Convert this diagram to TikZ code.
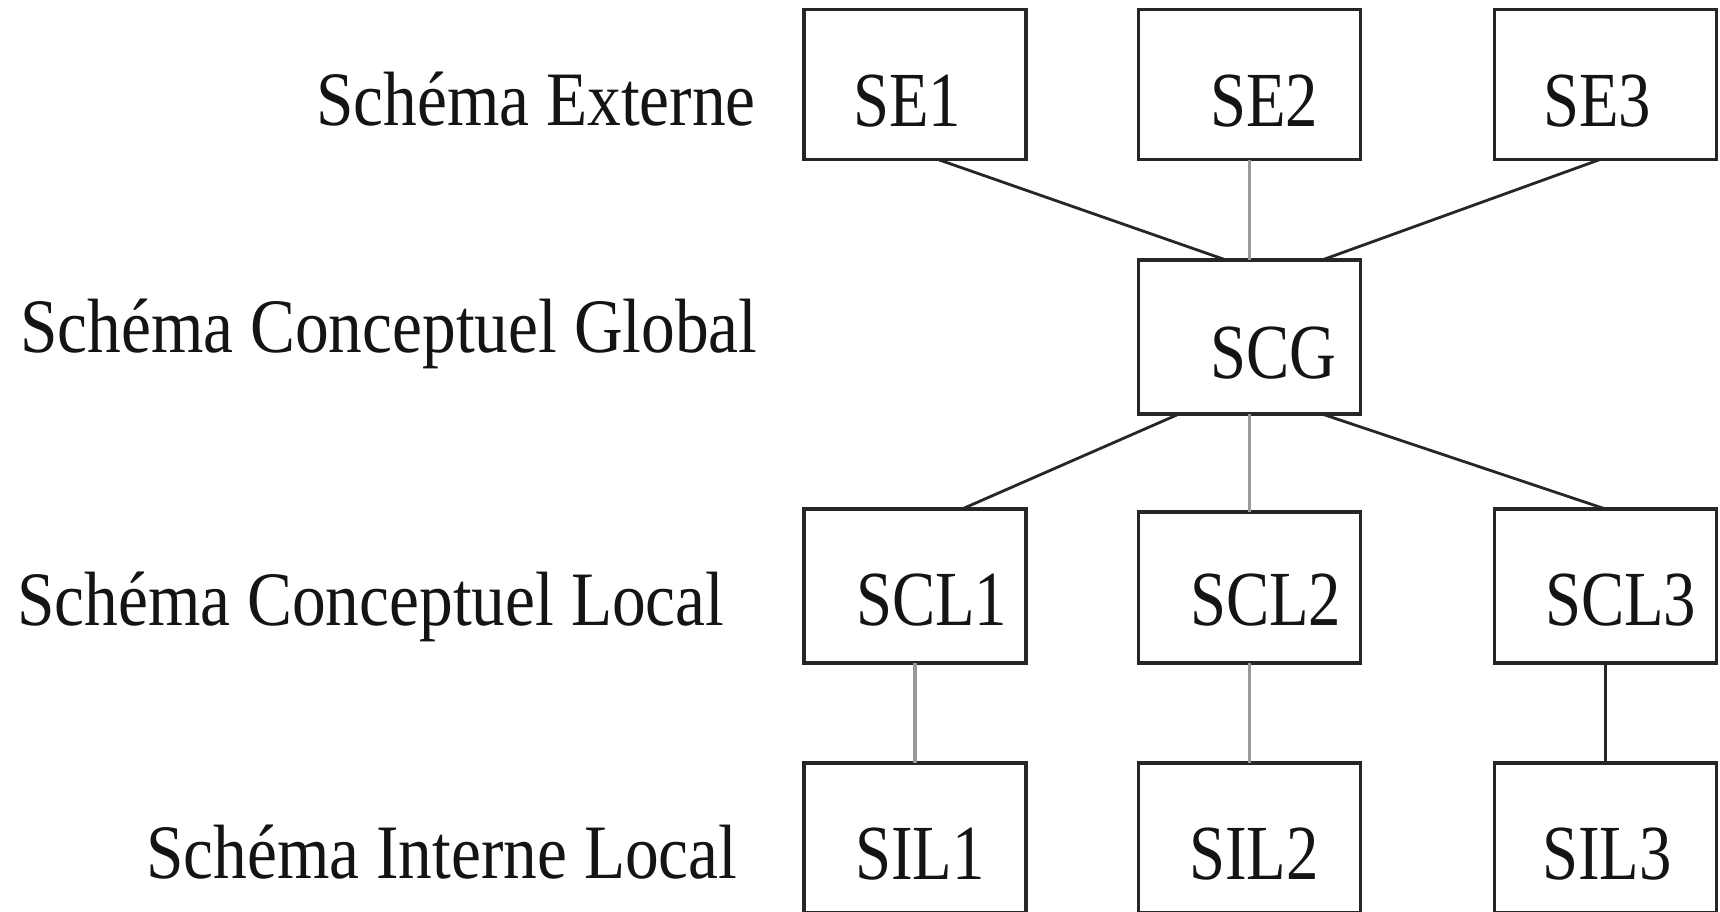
\documentclass[tikz,border=0pt]{standalone}
\usepackage{fontspec}
\setmainfont{Liberation Serif}
\newfontfamily\lblfont[FakeStretch=0.875]{Liberation Serif}
\newfontfamily\boxfont[FakeStretch=0.83]{Liberation Serif}
\definecolor{ink}{HTML}{262626}
\definecolor{textink}{HTML}{141414}
\definecolor{greyline}{HTML}{999999}
\begin{document}
\begin{tikzpicture}[x=1pt,y=-1pt,
  box/.style={draw=ink, line width=3.5pt, minimum width=222pt, minimum height=150pt, inner sep=0pt, outer sep=0pt},
  dline/.style={draw=ink, line width=2.8pt},
  gline/.style={draw=greyline, line width=3.2pt},
  thinline/.style={draw=ink, line width=2.2pt},
  lbl/.style={anchor=base west, inner sep=0pt, text=textink, font=\lblfont\fontsize{77}{90}\selectfont},
  btxt/.style={anchor=base west, inner sep=0pt, text=textink, font=\boxfont\fontsize{78}{90}\selectfont}]
\useasboundingbox[fill=white] (0,0) rectangle (1720,911);

% boxes
\node[box] (SE1) at (915,84.5) {};
\node[box] (SE2) at (1249.5,84.5) {};
\node[box] (SE3) at (1605.5,84.5) {};
\node[box, minimum height=154pt] (SCG) at (1249.5,337) {};
\node[box, minimum height=154pt] (SCL1) at (915,586) {};
\node[box, minimum height=151pt] (SCL2) at (1249.5,587.5) {};
\node[box, minimum height=154pt] (SCL3) at (1605.5,586) {};
\node[box] (SIL1) at (915,838) {};
\node[box] (SIL2) at (1249.5,838) {};
\node[box] (SIL3) at (1605.5,838) {};

% box texts
\node[btxt] (tSE1) at (853,126) {SE1};
\node[btxt] (tSE2) at (1210,126) {SE2};
\node[btxt] (tSE3) at (1543,126) {SE3};
\node[btxt] (tSCG) at (1210,378) {SCG};
\node[btxt] (tSCL1) at (856,625) {SCL1};
\node[btxt] (tSCL2) at (1190,625) {SCL2};
\node[btxt] (tSCL3) at (1545,625) {SCL3};
\node[btxt] (tSIL1) at (855,879) {SIL1};
\node[btxt] (tSIL2) at (1189,879) {SIL2};
\node[btxt] (tSIL3) at (1542,879) {SIL3};

% level labels
\node[lbl] (lSE) at (316,125) {Schéma Externe};
\node[lbl] (lSCG) at (20,352) {Schéma Conceptuel Global};
\node[lbl] (lSCL) at (17,625) {Schéma Conceptuel Local};
\node[lbl] (lSIL) at (146,878) {Schéma Interne Local};

% connectors
\draw[dline] ([xshift=23pt]SE1.south) -- ([xshift=-23.5pt]SCG.north);
\draw[gline] (SE2.south) -- (SCG.north);
\draw[dline] ([xshift=-5.5pt]SE3.south) -- ([xshift=72.5pt]SCG.north);
\draw[dline] ([xshift=-70.5pt]SCG.south) -- ([xshift=47pt]SCL1.north);
\draw[gline] (SCG.south) -- (SCL2.north);
\draw[dline] ([xshift=72.5pt]SCG.south) -- (SCL3.north);
\draw[gline] (SCL1.south) -- (SIL1.north);
\draw[gline] (SCL2.south) -- (SIL2.north);
\draw[thinline] (SCL3.south) -- (SIL3.north);
\end{tikzpicture}
\end{document}
